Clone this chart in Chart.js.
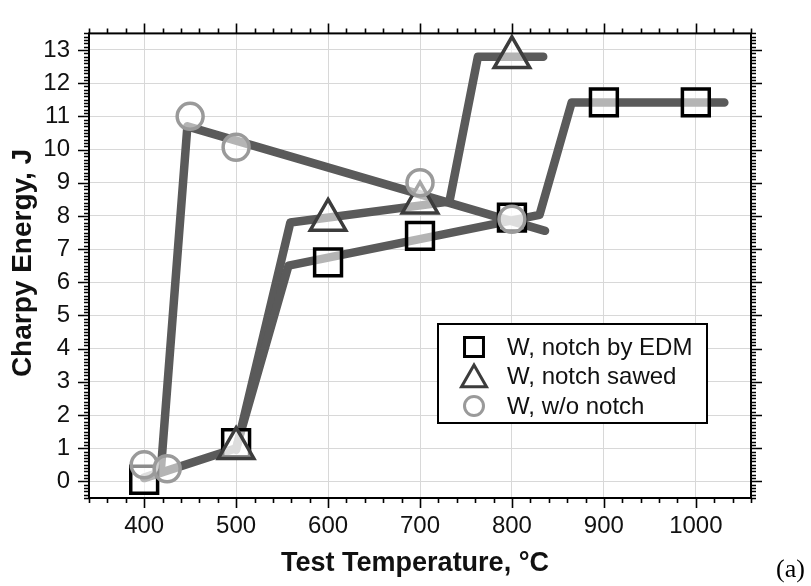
<!DOCTYPE html>
<html>
<head>
<meta charset="utf-8">
<script src="https://cdn.jsdelivr.net/npm/chart.js@4"></script>
<style>
  body { margin: 0; background: #fff; }
  #wrap { position: relative; width: 811px; height: 586px; }
  #tag { position: absolute; left: 776px; top: 554px; font: 26px "Liberation Serif", "DejaVu Serif", serif; color: #000; }
</style>
</head>
<body>
<div id="wrap">
  <canvas id="chart" width="811" height="586"></canvas>
  <div id="tag">(a)</div>
</div>
<script>
// measured points
const tempEdm = [400, 500, 600, 700, 800, 900, 1000];
const energyEdm = [0.05, 1.15, 6.6, 7.4, 7.95, 11.42, 11.42];
const tempSawed = [500, 600, 700, 800];
const energySawed = [1.0, 7.88, 8.4, 12.78];
const tempNoNotch = [400, 425, 450, 500, 700, 800];
const energyNoNotch = [0.5, 0.38, 11.0, 10.07, 9.0, 7.9];

// trend lines drawn through the data
const fitEdmT = [400, 500, 557, 830, 865, 1031];
const fitEdmE = [0.1, 1.0, 6.5, 8.03, 11.42, 11.42];
const fitSawedT = [500, 559, 732, 763, 834];
const fitSawedE = [0.95, 7.8, 8.43, 12.8, 12.8];
const fitNoNotchT = [400, 418, 447, 836];
const fitNoNotchE = [0.12, 0.28, 10.7, 7.55];

const xTicks = [400, 500, 600, 700, 800, 900, 1000];
const yTicks = [0, 1, 2, 3, 4, 5, 6, 7, 8, 9, 10, 11, 12, 13];

const labels = ["W, notch by EDM", "W, notch sawed", "W, w/o notch"];
const xTitle = "Test Temperature, °C";
const yTitle = "Charpy Energy, J";

const FONT = '"Liberation Sans", Arial, sans-serif';

function pts(xs, ys) {
    return xs.map((x, i) => ({ x: x, y: ys[i] }));
}

function fitLine(xs, ys) {
    return {
        data: pts(xs, ys),
        showLine: true,
        borderColor: "#5a5a5a",
        borderWidth: 8.5,
        borderCapStyle: "round",
        borderJoinStyle: "round",
        pointRadius: 0,
        order: 5,
        inLegend: false
    };
}

function markers(label, xs, ys, style, radius, color, order) {
    return {
        label: label,
        data: pts(xs, ys),
        showLine: false,
        pointStyle: style,
        pointRadius: radius,
        pointBorderWidth: 3.5,
        pointBorderColor: color,
        pointBackgroundColor: "rgba(255,255,255,0.55)",
        borderColor: color,
        order: order,
        inLegend: true
    };
}

// frame, mirrored minor ticks, axis titles, in-plot legend
const framePlugin = {
    id: "frame",
    afterDraw(chart) {
        let ctx = chart.ctx;
        let a = chart.chartArea;
        let xs = chart.scales.x, ys = chart.scales.y;
        ctx.save();
        ctx.strokeStyle = "#000";
        ctx.lineWidth = 2;
        ctx.strokeRect(a.left, a.top, a.right - a.left, a.bottom - a.top);

        ctx.lineWidth = 1.6;
        ctx.beginPath();
        for (let v = 340; v <= 1060; v += 20) {
            let px = Math.round(xs.getPixelForValue(v)) + 0.5;
            let len = v % 100 === 0 ? 10 : 5;
            ctx.moveTo(px, a.bottom); ctx.lineTo(px, a.bottom + len);
            ctx.moveTo(px, a.top); ctx.lineTo(px, a.top - len);
        }
        for (let i = -5; i <= 135; i++) {
            let py = Math.round(ys.getPixelForValue(i / 10)) + 0.5;
            let len = i % 10 === 0 ? 11 : 5;
            ctx.moveTo(a.left, py); ctx.lineTo(a.left - len, py);
            ctx.moveTo(a.right, py); ctx.lineTo(a.right + len, py);
        }
        ctx.stroke();

        // axis titles
        ctx.fillStyle = "#111";
        ctx.textAlign = "center";
        ctx.textBaseline = "middle";
        ctx.font = "bold 27px " + FONT;
        ctx.fillText(xTitle, 415, 564);
        ctx.save();
        ctx.translate(23, 263);
        ctx.rotate(-Math.PI / 2);
        ctx.font = "bold 28px " + FONT;
        ctx.fillText(yTitle, 0, 0);
        ctx.restore();

        // legend box
        let bx = 438, by = 324, bw = 269, bh = 99;
        ctx.fillStyle = "#fff";
        ctx.fillRect(bx, by, bw, bh);
        ctx.lineWidth = 2;
        ctx.strokeRect(bx, by, bw, bh);
        let sizes = { rect: 13.4, triangle: 14.4, circle: 9.5 };
        let row = 0;
        ctx.textAlign = "left";
        chart.data.datasets.forEach(ds => {
            if (!ds.inLegend) return;
            let y = by + 23 + row * 29.5;
            ctx.strokeStyle = ds.pointBorderColor;
            ctx.fillStyle = "#fff";
            ctx.lineWidth = 3;
            Chart.helpers.drawPoint(ctx, {
                pointStyle: ds.pointStyle,
                radius: sizes[ds.pointStyle],
                rotation: 0,
                borderWidth: 3
            }, 474, ds.pointStyle === "triangle" ? y + 3 : y);
            ctx.fillStyle = "#111";
            ctx.font = "24px " + FONT;
            ctx.fillText(ds.label, 507, y + 1);
            row++;
        });
        ctx.restore();
    }
};

const datasets = [
    markers(labels[0], tempEdm, energyEdm, "rect", 19, "#000", 2),
    markers(labels[1], tempSawed, energySawed, "triangle", 20.5, "#3c3c3c", 1),
    markers(labels[2], tempNoNotch, energyNoNotch, "circle", 13, "#9a9a9a", 0),
    fitLine(fitEdmT, fitEdmE),
    fitLine(fitSawedT, fitSawedE),
    fitLine(fitNoNotchT, fitNoNotchE)
];

new Chart(document.getElementById("chart"), {
    type: "scatter",
    data: { datasets: datasets },
    options: {
        responsive: false,
        animation: false,
        layout: { padding: { left: 0, right: 60, top: 15, bottom: 0 } },
        plugins: { legend: { display: false }, tooltip: { enabled: false } },
        scales: {
            x: {
                type: "linear",
                min: 340,
                max: 1060,
                afterBuildTicks: s => { s.ticks = xTicks.map(v => ({ value: v })); },
                afterFit: s => { s.height = 88; },
                grid: { color: "#d8d8d8", lineWidth: 1, drawTicks: false },
                border: { display: false },
                ticks: {
                    padding: 14,
                    color: "#111",
                    callback: v => String(v),
                    font: { family: FONT, size: 24 }
                }
            },
            y: {
                type: "linear",
                min: -0.5,
                max: 13.5,
                afterBuildTicks: s => { s.ticks = yTicks.map(v => ({ value: v })); },
                afterFit: s => { s.width = 89; },
                grid: { color: "#d8d8d8", lineWidth: 1, drawTicks: false },
                border: { display: false },
                ticks: {
                    padding: 19,
                    color: "#111",
                    callback: v => String(v),
                    font: { family: FONT, size: 24 }
                }
            }
        }
    },
    plugins: [framePlugin]
});
</script>
</body>
</html>
